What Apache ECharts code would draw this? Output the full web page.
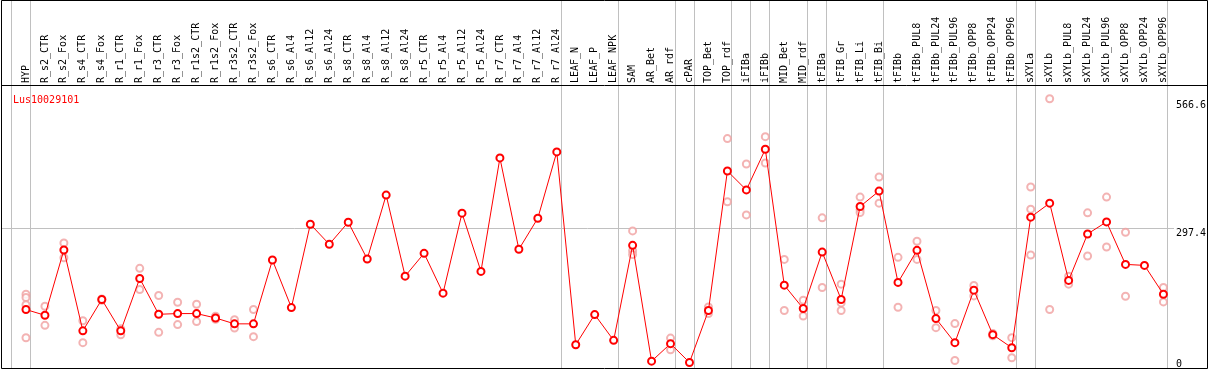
<!DOCTYPE html>
<html>
<head>
<meta charset="utf-8">
<script src="https://cdn.jsdelivr.net/npm/echarts@6/dist/echarts.min.js"></script>
<style>
html,body{margin:0;padding:0;background:#fff;}
#chart{width:1209px;height:370px;}
</style>
</head>
<body>
<div id="chart"></div>
<script>
const categories = ["HYP","R_s2_CTR","R_s2_Fox","R_s4_CTR","R_s4_Fox","R_r1_CTR","R_r1_Fox","R_r3_CTR","R_r3_Fox","R_r1s2_CTR","R_r1s2_Fox","R_r3s2_CTR","R_r3s2_Fox","R_s6_CTR","R_s6_Al4","R_s6_Al12","R_s6_Al24","R_s8_CTR","R_s8_Al4","R_s8_Al12","R_s8_Al24","R_r5_CTR","R_r5_Al4","R_r5_Al12","R_r5_Al24","R_r7_CTR","R_r7_Al4","R_r7_Al12","R_r7_Al24","LEAF_N","LEAF_P","LEAF_NPK","SAM","AR_Bet","AR_rdf","cPAR","TOP_Bet","TOP_rdf","iFIBa","iFIBb","MID_Bet","MID_rdf","tFIBa","tFIB_Gr","tFIB_Li","tFIB_Bi","tFIBb","tFIBb_PUL8","tFIBb_PUL24","tFIBb_PUL96","tFIBb_OPP8","tFIBb_OPP24","tFIBb_OPP96","sXYLa","sXYLb","sXYLb_PUL8","sXYLb_PUL24","sXYLb_PUL96","sXYLb_OPP8","sXYLb_OPP24","sXYLb_OPP96"];

const meanValues = [125.6,113.5,251.4,80.6,146.8,80.6,191.3,115.6,117.1,117.1,107.8,95.4,95.4,230.2,129.8,305.9,263.5,310.1,232.3,367.4,196.2,244.4,160.2,329.2,206.2,445.9,252.9,318.6,458.6,51.3,115.0,60.5,261.3,16.5,53.5,13.8,123.5,418.3,378.3,464.3,177.1,127.7,247.0,146.8,343.3,375.9,182.9,250.7,106.5,55.6,166.5,72.5,45.0,320.8,350.4,187.1,285.3,310.8,221.0,218.9,158.0];

const replicates = [
  [158,151,136,66],[132.6,92.3],[266.2,235],[102,55.6],[148,145],[84.8,72.1],[212.6,168],[155.3,77.4],[141,93.8],[136.8,100.1],[111.4,105],[104,86.6],[125.6,68.3],
  [],[],[],[],[],[],[],[],[],[],[],[],[],[],[],[],
  [],[],[],
  [291.7,250,242],[],[65.3,40.7],[],[131,117],[486.8,353.4],[433.2,325.6],[490.9,435.3],[231.6,123.5],[145.3,112],[319.3,172.3],[179.3,139.6,123.5],[363.2,336.2,330.5],[405.6,350.4],
  [235.9,130.5],[269.8,231.6],[123.5,87.4],[95.9,18],[176.5,154.4],[75,70],[66.2,23.8],
  [384.4,337.7,240.8],[571,125.6],[196.2,179.3],[329.9,238.7],[363.2,257.7],[288.9,153.8],[],[172.3,141.7]
];

const yTickLabels = [0, 297.4, 566.6];
const groupEnds = [-1, 0, 28, 31, 34, 35, 37, 38, 39, 41, 42, 45, 52, 53, 60];
const titleText = "Lus10029101";

const repData = [];
replicates.forEach((arr, i) => arr.forEach(v => repData.push([i, v])));

const MONO = "'DejaVu Sans Mono', monospace";
const chart = echarts.init(document.getElementById('chart'), null, {renderer: 'canvas'});

chart.setOption({
  animation: false,
  backgroundColor: '#fff',
  title: {
    text: titleText, left: 8, top: 90,
    textStyle: {color: '#ff0000', fontSize: 10, fontWeight: 'normal', fontFamily: MONO}
  },
  grid: {left: 16.5, right: 33.5, top: 85, bottom: 1},
  xAxis: {
    type: 'category', data: categories, position: 'top', boundaryGap: true,
    axisLine: {show: false}, axisTick: {show: false}, splitLine: {show: false},
    axisLabel: {interval: 0, rotate: 90, margin: 2, fontSize: 10, fontFamily: MONO, color: '#000'}
  },
  yAxis: {
    type: 'value', position: 'right', min: 0, max: 600,
    axisLine: {show: false}, axisTick: {show: false}, splitLine: {show: false},
    axisLabel: {
      customValues: yTickLabels, margin: 3, fontSize: 10, fontFamily: MONO, color: '#000',
      verticalAlign: 'top', verticalAlignMinLabel: 'bottom',
      formatter: v => String(v)
    }
  },
  series: [
    {
      type: 'scatter', data: repData, symbol: 'emptyCircle', symbolSize: 7, z: 2,
      itemStyle: {color: '#f0a0a0', borderColor: '#f0a0a0', borderWidth: 1}
    },
    {
      type: 'line', data: meanValues, symbol: 'emptyCircle', symbolSize: 7, z: 3,
      lineStyle: {color: '#ff0000', width: 1},
      itemStyle: {color: '#ff0000', borderColor: '#ff0000', borderWidth: 1.6}
    }
  ]
});

// decorations derived from the chart's own scales
const x0 = chart.convertToPixel({xAxisIndex: 0}, 0);
const x1 = chart.convertToPixel({xAxisIndex: 0}, 1);
const step = x1 - x0;
const yMid = Math.floor(chart.convertToPixel({yAxisIndex: 0}, yTickLabels[1])) + 0.5;
const xLast = chart.convertToPixel({xAxisIndex: 0}, categories.length - 1);
const gfx = [];
groupEnds.forEach(i => {
  const x = Math.floor(x0 + step * i + step * 0.24) + 0.5;
  gfx.push({type: 'line', z: 1, shape: {x1: x, y1: 0, x2: x, y2: 368}, style: {stroke: '#c0c0c0', lineWidth: 1}});
});
gfx.push({type: 'line', z: 1, shape: {x1: 1, y1: yMid, x2: Math.round(xLast + step / 2) + 1, y2: yMid}, style: {stroke: '#c0c0c0', lineWidth: 1}});
gfx.push({type: 'line', z: 10, shape: {x1: 1, y1: 85.5, x2: 1208, y2: 85.5}, style: {stroke: '#000', lineWidth: 1}});
gfx.push({type: 'rect', z: 10, shape: {x: 1.5, y: 0.5, width: 1206, height: 368}, style: {fill: null, stroke: '#000', lineWidth: 1}});
chart.setOption({graphic: gfx});
</script>
</body>
</html>
